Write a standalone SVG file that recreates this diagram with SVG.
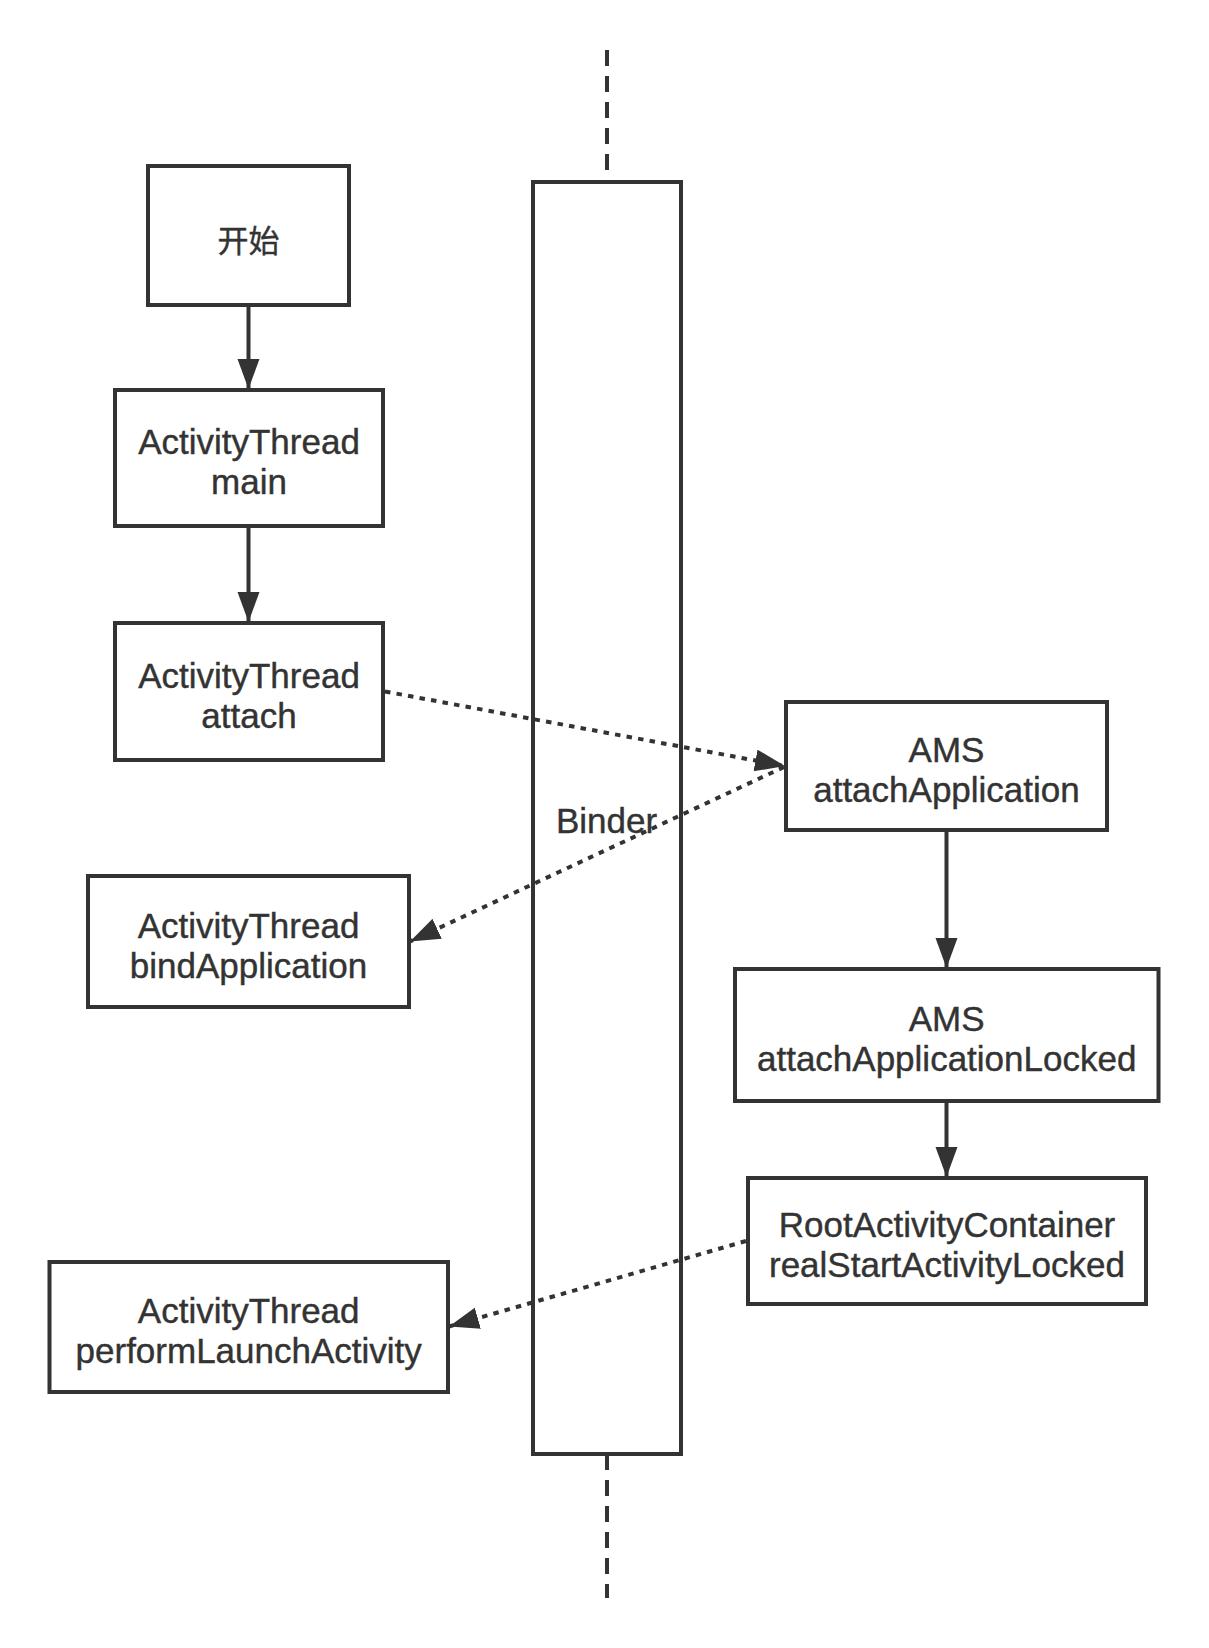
<svg xmlns="http://www.w3.org/2000/svg" width="1209" height="1648" viewBox="0 0 1209 1648">
<defs>
<style>
.box{fill:#fff;stroke:#333;stroke-width:4}
.t{font-family:"Liberation Sans",Arial,sans-serif;font-size:35px;fill:#333;stroke:#333;stroke-width:0.4;text-anchor:middle}
.cjk{font-family:"Liberation Sans","Noto Sans CJK SC",sans-serif;font-size:31px;fill:#333;stroke:#333;stroke-width:0.4;text-anchor:middle}
.solid{fill:none;stroke:#333;stroke-width:4}
.dot{fill:none;stroke:#333;stroke-width:4;stroke-dasharray:5.5 6.2}
.life{fill:none;stroke:#333;stroke-width:4;stroke-dasharray:16 10}
</style>
<marker id="ah" markerUnits="userSpaceOnUse" markerWidth="32" markerHeight="24" refX="30" refY="11" orient="auto">
<path d="M0,0 L30,11 L0,22 Z" fill="#333"/>
</marker>
</defs>
<rect width="1209" height="1648" fill="#fff"/>
<g id="binder">
<line class="life" x1="607" y1="50" x2="607" y2="182"/>
<line class="life" x1="607" y1="1454" x2="607" y2="1598"/>
<rect class="box" x="533" y="182" width="148" height="1272"/>
</g>
<g id="connectors">
<line class="solid" x1="248.5" y1="305" x2="248.5" y2="389" marker-end="url(#ah)"/>
<line class="solid" x1="248.5" y1="526" x2="248.5" y2="622" marker-end="url(#ah)"/>
<line class="dot" x1="385" y1="691.5" x2="785" y2="766" marker-end="url(#ah)"/>
<line class="dot" x1="784" y1="767" x2="410" y2="941.5" marker-end="url(#ah)"/>
<line class="solid" x1="946.5" y1="830" x2="946.5" y2="968" marker-end="url(#ah)"/>
<line class="solid" x1="946.5" y1="1101" x2="946.5" y2="1177" marker-end="url(#ah)"/>
<line class="dot" x1="746" y1="1241" x2="449" y2="1326.5" marker-end="url(#ah)"/>
</g>
<text class="t" x="606.6" y="833">Binder</text>
<g id="start">
<rect class="box" x="148" y="166" width="201" height="139"/>
<text class="cjk" x="248.5" y="252">开始</text>
</g>
<g id="main">
<rect class="box" x="115" y="390" width="268" height="136"/>
<text class="t" x="249" y="454">ActivityThread</text>
<text class="t" x="249" y="494">main</text>
</g>
<g id="attach">
<rect class="box" x="115" y="623" width="268" height="137"/>
<text class="t" x="249" y="687.5">ActivityThread</text>
<text class="t" x="249" y="727.5">attach</text>
</g>
<g id="bindApplication">
<rect class="box" x="88" y="876" width="321" height="131"/>
<text class="t" x="248.5" y="937.5">ActivityThread</text>
<text class="t" x="248.5" y="977.5">bindApplication</text>
</g>
<g id="performLaunchActivity">
<rect class="box" x="49.5" y="1262" width="398.5" height="130"/>
<text class="t" x="248.7" y="1323">ActivityThread</text>
<text class="t" x="248.7" y="1363">performLaunchActivity</text>
</g>
<g id="attachApplication">
<rect class="box" x="786" y="702" width="321" height="128"/>
<text class="t" x="946.5" y="762">AMS</text>
<text class="t" x="946.5" y="802">attachApplication</text>
</g>
<g id="attachApplicationLocked">
<rect class="box" x="735" y="969" width="423.5" height="132"/>
<text class="t" x="946.7" y="1031">AMS</text>
<text class="t" x="946.7" y="1071">attachApplicationLocked</text>
</g>
<g id="realStartActivityLocked">
<rect class="box" x="748" y="1178" width="398" height="126"/>
<text class="t" x="947" y="1237">RootActivityContainer</text>
<text class="t" x="947" y="1277">realStartActivityLocked</text>
</g>
</svg>
